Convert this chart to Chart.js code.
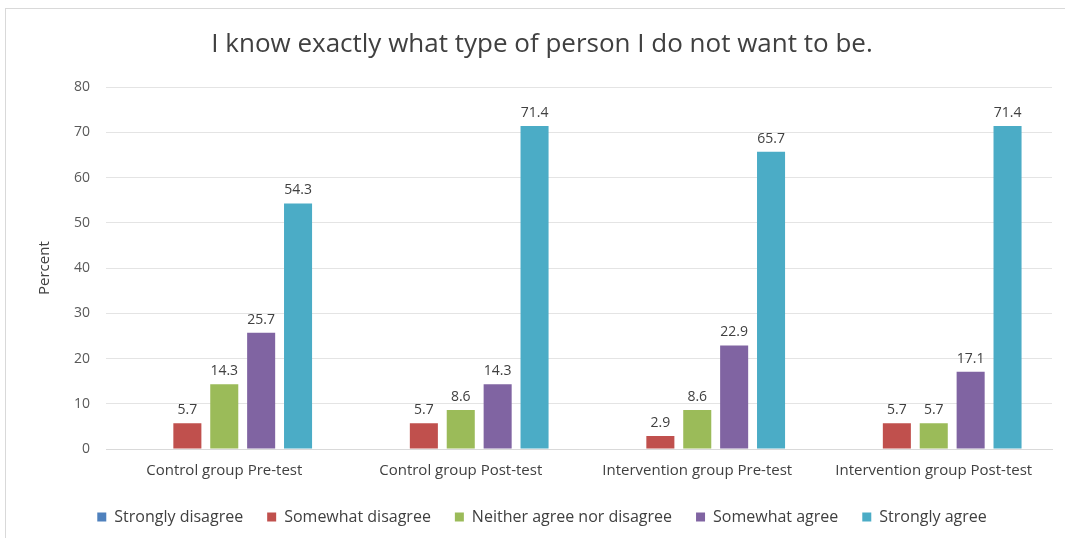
<!DOCTYPE html>
<html>
<head>
<meta charset="utf-8">
<script src="https://cdn.jsdelivr.net/npm/chart.js@4/dist/chart.umd.min.js"></script>
<style>
  body { margin: 0; background: #fff; }
  #frame { position: absolute; left: 5px; top: 8px; width: 1060px; height: 530px; border: 1px solid #d9d9d9; border-right: none; border-bottom: none; box-sizing: border-box; }
  #wrap { position: absolute; left: 6px; top: 9px; width: 1058px; height: 530px; }
</style>
</head>
<body>
<div id="frame"></div>
<div id="wrap"><canvas id="chart"></canvas></div>
<script>
// categories and series
let groups = ["Control group Pre-test", "Control group Post-test", "Intervention group Pre-test", "Intervention group Post-test"];
let stronglyDisagree = [0, 0, 0, 0];
let somewhatDisagree = [5.7, 5.7, 2.9, 5.7];
let neither = [14.3, 8.6, 8.6, 5.7];
let somewhatAgree = [25.7, 14.3, 22.9, 17.1];
let stronglyAgree = [54.3, 71.4, 65.7, 71.4];
let yTicks = [0, 10, 20, 30, 40, 50, 60, 70, 80];

let fontFam = "'Open Sans', sans-serif";

// draws the value above each bar (skips zeros)
let valueLabels = {
    id: "valueLabels",
    afterDatasetsDraw: function (chart) {
        let ctx = chart.ctx;
        ctx.save();
        ctx.font = "14px " + fontFam;
        ctx.fillStyle = "#404040";
        ctx.textAlign = "center";
        ctx.textBaseline = "bottom";
        chart.data.datasets.forEach(function (ds, i) {
            let meta = chart.getDatasetMeta(i);
            meta.data.forEach(function (bar, j) {
                let v = ds.data[j];
                if (!v) return;
                ctx.fillText(v.toFixed(1), bar.x, bar.y - 6);
            });
        });
        ctx.restore();
    }
};

new Chart("chart", {
    type: "bar",
    data: {
        labels: groups,
        datasets: [
            {label: "Strongly disagree", data: stronglyDisagree, backgroundColor: "#4F81BD"},
            {label: "Somewhat disagree", data: somewhatDisagree, backgroundColor: "#C0504D"},
            {label: "Neither agree nor disagree", data: neither, backgroundColor: "#9BBB59"},
            {label: "Somewhat agree", data: somewhatAgree, backgroundColor: "#8064A2"},
            {label: "Strongly agree", data: stronglyAgree, backgroundColor: "#4BACC6"}
        ]
    },
    options: {
        responsive: true,
        maintainAspectRatio: false,
        animation: false,
        categoryPercentage: 0.78,
        barPercentage: 0.76,
        layout: {padding: {left: 26, right: 12, top: 10, bottom: 4}},
        plugins: {
            title: {
                display: true,
                text: "I know exactly what type of person I do not want to be.",
                color: "#404040",
                font: {family: fontFam, size: 26, weight: "normal"},
                padding: {top: 10, bottom: 27}
            },
            legend: {
                position: "bottom",
                labels: {
                    boxWidth: 9,
                    boxHeight: 9,
                    color: "#404040",
                    font: {family: fontFam, size: 16},
                    padding: 24
                }
            },
            tooltip: {enabled: false}
        },
        scales: {
            x: {
                grid: {display: false},
                border: {color: "#d9d9d9"},
                ticks: {color: "#404040", padding: 5, font: {family: fontFam, size: 15}}
            },
            y: {
                min: 0,
                max: 80,
                afterBuildTicks: function (axis) {
                    axis.ticks = yTicks.map(function (v) { return {value: v}; });
                },
                grid: {color: "#e4e4e4", drawTicks: false},
                border: {display: false},
                ticks: {color: "#595959", padding: 16, font: {family: fontFam, size: 14}},
                title: {display: true, text: "Percent", color: "#404040", font: {family: fontFam, size: 15}}
            }
        }
    },
    plugins: [valueLabels]
});
</script>
</body>
</html>
